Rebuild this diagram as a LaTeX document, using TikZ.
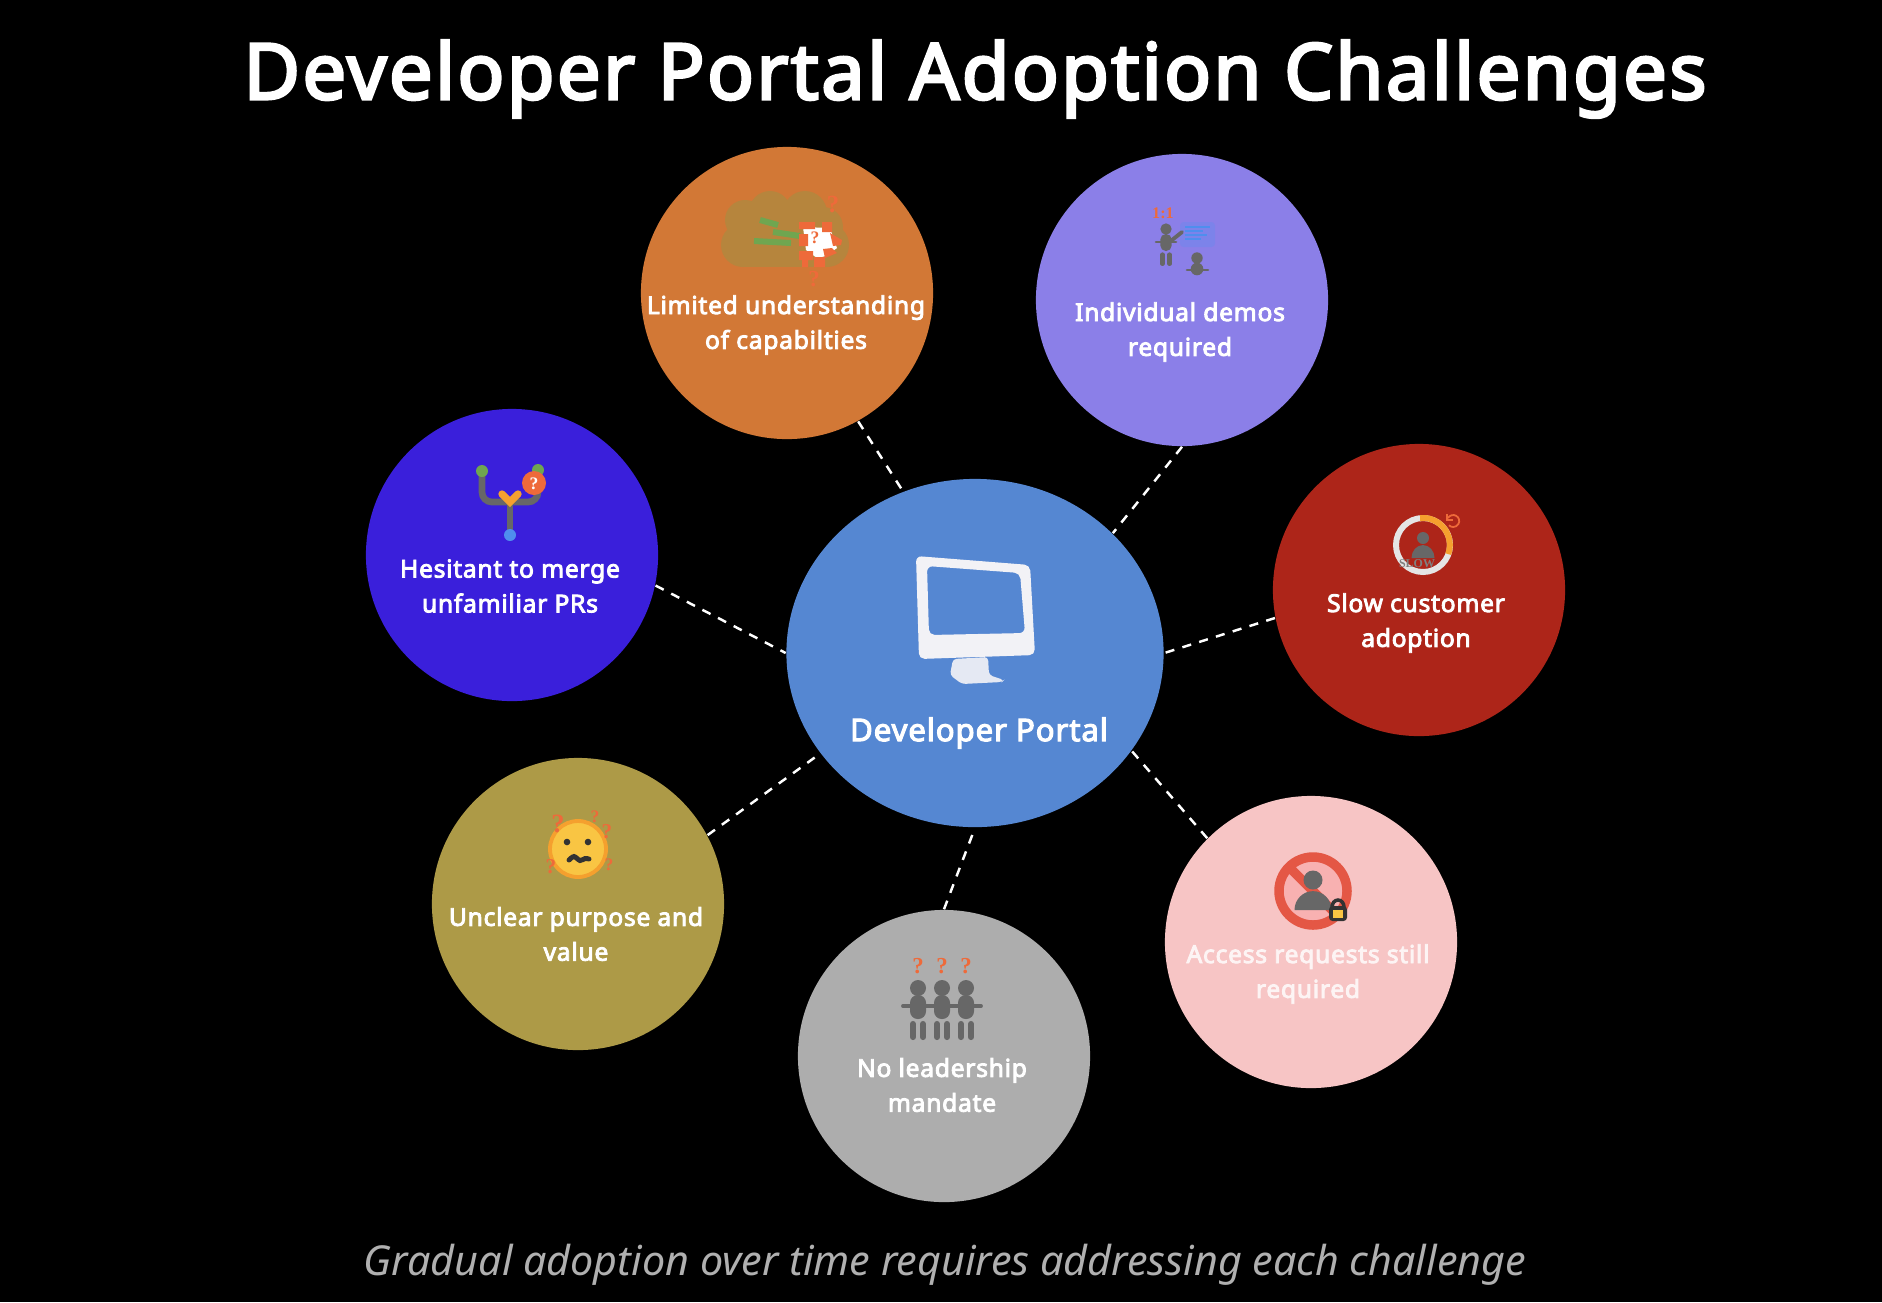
\documentclass[tikz,border=0pt]{standalone}
\usepackage{fontspec}
\setmainfont{Noto Sans}[BoldFont={Noto Sans}, BoldFeatures={FakeBold=3.5, LetterSpace=3}]
\newfontfamily\iconfont{Liberation Serif}
\usepackage{tikz}
\usetikzlibrary{shapes.geometric,positioning}
\definecolor{orangebub}{HTML}{D27836}
\definecolor{purplebub}{HTML}{8B7FE8}
\definecolor{redbub}{HTML}{AD2519}
\definecolor{pinkbub}{HTML}{F7C5C5}
\definecolor{greybub}{HTML}{ADADAD}
\definecolor{olivebub}{HTML}{AD9A47}
\definecolor{indigobub}{HTML}{3A1FDB}
\definecolor{hubblue}{HTML}{5587D2}
\definecolor{ink}{HTML}{676767}
\definecolor{tomato}{HTML}{EE6A3A}
\definecolor{amber}{HTML}{F5A02E}
\definecolor{leaf}{HTML}{6FA650}
\definecolor{sky}{HTML}{4F8EEE}
\definecolor{forbid}{HTML}{E45745}
\definecolor{facefill}{HTML}{F9C543}
\definecolor{screenwhite}{HTML}{F2F2F6}
\tikzstyle{bubble} = [circle, minimum size=2.92cm, inner sep=0pt]
\tikzstyle{hubnode} = [ellipse, fill=hubblue, minimum width=3.77cm, minimum height=3.48cm, inner sep=0pt]
\tikzstyle{bubbletext} = [text=white, align=center, font=\fontsize{7}{9.9}\selectfont\bfseries]
\tikzstyle{spoke} = [draw=white, line width=0.7pt, dash pattern=on 2.6pt off 2.4pt]
\tikzstyle{icontext} = [inner sep=0pt, text=tomato]
\newcommand{\askmark}[4]{\node[icontext, font=\fontsize{#4}{#4}\selectfont\iconfont\bfseries] (#1) at (#2,#3) {?};}
\newcommand{\persona}[3]{%
	\begin{scope}[shift={(#1,#2)}, scale=#3]
		\fill[ink] (0,0) circle [radius=8];
		\fill[ink, rounded corners=#3*2.2pt] (-8,7) rectangle (8,31);
		\draw[ink, line width=#3*1.75pt, line cap=round] (-5,36) -- (-5,49) (5,36) -- (5,49);
	\end{scope}}
\newcommand{\bust}[5]{\fill[ink] (#1,#2) circle [radius=#3]
	(#1-#4,#2+#5) arc [start angle=180, end angle=360, x radius=#4, y radius=#5-#3*1.17] -- cycle;}
\begin{document}
\begin{tikzpicture}[x=0.01cm, y=-0.01cm]
	\fill[black] (0,0) rectangle (1882,1302);
	\node[text=white, font=\fontsize{22.1}{25}\selectfont\bfseries] (title) at (975,79) {Developer Portal Adoption Challenges};
	\node[text=white!69!black, font=\fontsize{11.73}{14}\selectfont\itshape] (footer) at (945,1265) {Gradual adoption over time requires addressing each challenge};
	\node[hubnode] (portal) at (975,653) {};
	\node[bubble, fill=orangebub] (capabilities) at (787,293) {};
	\node[bubble, fill=purplebub] (demos) at (1182,300) {};
	\node[bubble, fill=redbub] (slow) at (1419,590) {};
	\node[bubble, fill=pinkbub] (access) at (1311,942) {};
	\node[bubble, fill=greybub] (mandate) at (944,1056) {};
	\node[bubble, fill=olivebub] (purpose) at (578,904) {};
	\node[bubble, fill=indigobub] (merge) at (512,555) {};
	\draw[spoke] (capabilities.-61) -- (portal.114);
	\draw[spoke] (demos.-90) -- (portal.41);
	\draw[spoke] (slow.191.5) -- (portal.0);
	\draw[spoke] (access.135) -- (portal.-32.5);
	\draw[spoke] (mandate.90) -- (portal.-90);
	\draw[spoke] (purpose.28.5) -- (portal.213);
	\draw[spoke] (merge.-12) -- (portal.180);
	\node[bubbletext, font=\fontsize{8.85}{10}\selectfont\bfseries] (portallabel) at (979,733) {Developer Portal};
	\node[bubbletext] (capabilitieslabel) at (786,325) {Limited understanding\\of capabilties};
	\node[bubbletext] (demoslabel) at (1180,332) {Individual demos\\required};
	\node[bubbletext] (slowlabel) at (1416,623) {Slow customer\\adoption};
	\node[bubbletext, text=white!80!pinkbub] (accesslabel) at (1308,974) {Access requests still\\required};
	\node[bubbletext] (mandatelabel) at (942,1085) {No leadership\\mandate};
	\node[bubbletext] (purposelabel) at (576,934) {Unclear purpose and\\value};
	\node[bubbletext] (mergelabel) at (510,586) {Hesitant to merge\\unfamiliar PRs};
	% monitor
	\fill[screenwhite!92!hubblue, rounded corners=1pt] (953,659) -- (988,657) -- (989,675) -- (1004,680) -- (1002,682) -- (962,684) -- (950,675) -- cycle;
	\fill[screenwhite, even odd rule, rounded corners=1.6pt] (916,556) -- (1030,565) -- (1035,655) -- (919,659) -- cycle (927,566) -- (1020,573) -- (1025,633) -- (929,635) -- cycle;
	% cloud
	\fill[orangebub!72!leaf] (743,245) circle [radius=22];
	\fill[orangebub!72!leaf] (745,220) circle [radius=20];
	\fill[orangebub!72!leaf] (770,212) circle [radius=21];
	\fill[orangebub!72!leaf] (805,213) circle [radius=22];
	\fill[orangebub!72!leaf] (823,227) circle [radius=20];
	\fill[orangebub!72!leaf] (827,245) circle [radius=22];
	\fill[orangebub!72!leaf] (743,210) rectangle (827,267);
	\draw[leaf, line width=1.7pt] (760,220) -- (778,225) (773,232) -- (800,236) (754,241) -- (791,243);
	\fill[white] (803,227) -- (830,228) -- (837,248) -- (826,256) -- (817,258) -- (806,250) -- cycle;
	\fill[tomato] (799,222) rectangle (815,229) (822,222) rectangle (832,232) (799,234) rectangle (808,246) (830,233) -- (842,240) -- (841,245) -- (833,246) -- cycle (799,251) rectangle (813,260) (802,260) rectangle (808,267) (814,257) rectangle (825,267) (823,249) -- (832,248) -- (837,253) -- (825,258) -- cycle;
	\askmark{capq1}{815}{238}{5}
	\askmark{capq2}{833}{205}{7}
	\askmark{capq3}{814}{279}{6.5}
	% demo
	\fill[sky!25!purplebub, rounded corners=1pt] (1180,222) rectangle (1215,247);
	\draw[sky, line width=0.55pt] (1185,227) -- (1210,227) (1185,231) -- (1203,231) (1185,235) -- (1207,235) (1185,239) -- (1201,239);
	\persona{1166}{229}{0.71}
	\draw[ink, line width=0.75pt, line cap=round] (1156,242) -- (1176,242);
	\draw[ink, line width=1.1pt, line cap=round] (1172,240) -- (1182,232);
	\fill[ink] (1197,258) circle [radius=5.7] (1197,269) circle [radius=6.3];
	\draw[ink, line width=0.75pt, line cap=round] (1187,270) -- (1208,270);
	\node[icontext, font=\fontsize{4.6}{5}\selectfont\iconfont\bfseries] (demotag) at (1163,213) {1:1};
	% slow
	\draw[white!90!black, line width=1.7pt] (1423,545) circle [radius=27];
	\draw[amber, line width=1.7pt] (1420,518) arc [start angle=-96, end angle=20, radius=27];
	\bust{1423}{538}{6}{11.5}{20}
	\draw[tomato, line width=0.5pt] (1448,518) arc [start angle=-150, end angle=135, radius=6];
	\draw[tomato, line width=0.5pt] (1447,514) -- (1447,520) -- (1453,520);
	\node[inner sep=0pt, text=white!50!black, font=\fontsize{3.4}{4}\selectfont\iconfont\bfseries] (slowtag) at (1417,564) {SLOW};
	% access
	\fill[pinkbub!90!red] (1313,891) circle [radius=34];
	\draw[forbid, line width=2.7pt] (1313,891) circle [radius=34] (1289,867) -- (1337,915);
	\bust{1313}{880}{9.5}{18.5}{30}
	\draw[black!80, line width=1pt] (1332,907) arc [start angle=180, end angle=360, x radius=6, y radius=7];
	\fill[black!80, rounded corners=1pt] (1329,906) rectangle (1347,921);
	\fill[facefill] (1333,910) rectangle (1343,918);
	% mandate
	\draw[ink, line width=1.1pt, line cap=round] (903,1006) -- (981,1006);
	\persona{918}{988}{1}
	\persona{942}{988}{1}
	\persona{966}{988}{1}
	\askmark{manq1}{918}{966}{6.5}
	\askmark{manq2}{942}{966}{6.5}
	\askmark{manq3}{966}{966}{6.5}
	% purpose
	\fill[facefill, draw=amber, line width=1.1pt] (578,849) circle [radius=28];
	\fill[black!80] (567,842) circle [radius=3.3] (588,842) circle [radius=3.3];
	\draw[black!80, line width=1.4pt, line cap=round] plot [smooth] coordinates {(569,860) (574,856.5) (580,860.5) (585,858.5) (589,859)};
	\askmark{purq1}{558}{824}{7.5}
	\askmark{purq2}{595}{817}{5}
	\askmark{purq3}{607}{832}{6}
	\askmark{purq4}{551}{867}{6}
	\askmark{purq5}{609}{865}{5}
	% merge
	\draw[ink, line width=1.9pt, rounded corners=2.8pt] (482,471) -- (482,502) -- (538,502) -- (538,471);
	\draw[ink, line width=1.9pt] (510,502) -- (510,535);
	\fill[leaf] (482,471) circle [radius=6] (538,470) circle [radius=6];
	\fill[sky] (510,535) circle [radius=6];
	\draw[amber, line width=2.1pt, line cap=round] (502,494) -- (510,502) -- (518,494);
	\fill[tomato] (534,483) circle [radius=12];
	\node[icontext, text=white, font=\fontsize{5}{5}\selectfont\iconfont\bfseries] (mergeq) at (534,484) {?};
\end{tikzpicture}
\end{document}
